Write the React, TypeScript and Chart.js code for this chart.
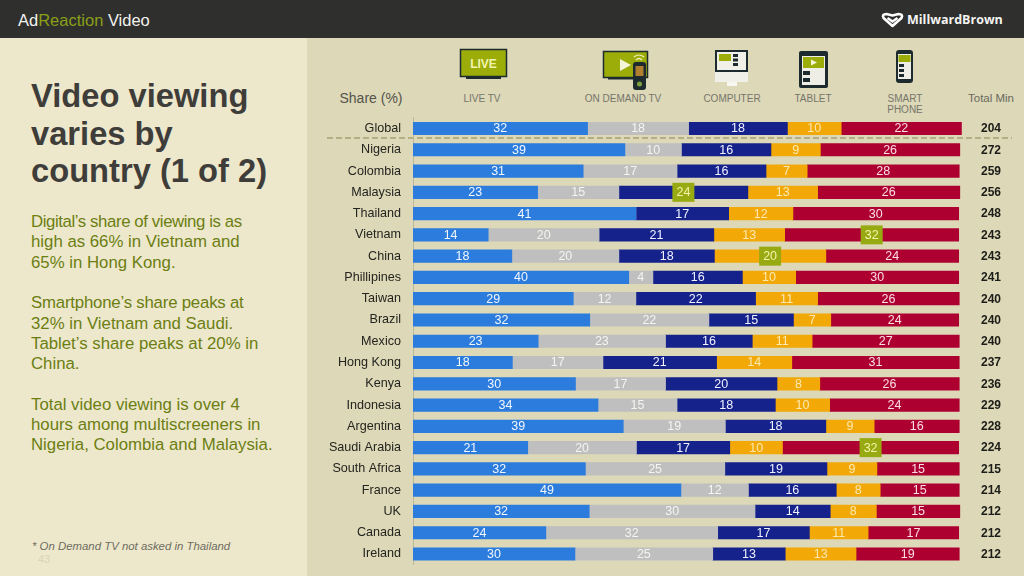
import React, { useEffect, useRef } from "react";
import { Chart, registerables } from "chart.js";

Chart.register(...registerables);

const countries = ["Global","Nigeria","Colombia","Malaysia","Thailand","Vietnam","China","Phillipines","Taiwan","Brazil","Mexico","Hong Kong","Kenya","Indonesia","Argentina","Saudi Arabia","South Africa","France","UK","Canada","Ireland"];

const liveTv = [31.8,38.6,31.0,22.7,40.6,13.7,18.0,39.3,29.2,32.2,22.8,18.1,29.6,33.7,38.3,20.9,31.4,48.8,32.1,24.2,29.5];
const onDemandTv = [18.4,10.3,17.1,14.8,0,20.2,19.5,4.4,11.4,21.7,23.2,16.5,16.4,14.4,18.6,19.8,25.4,12.3,30.2,31.3,25.1];
const computer = [18.0,16.3,16.2,23.5,16.9,20.9,17.4,16.3,21.8,15.4,15.8,20.7,20.3,17.9,18.3,17.0,18.6,16.0,13.7,16.7,13.2];
const tablet = [9.8,9.0,7.5,12.7,11.7,12.9,20.3,9.7,11.3,6.8,10.9,13.7,7.8,9.9,8.8,9.6,9.1,8.0,8.4,10.7,12.9];
const smartphone = [21.9,25.4,27.7,25.9,30.2,31.7,24.2,29.7,25.8,23.3,26.8,30.5,25.4,23.6,15.5,32.1,15.0,14.4,15.2,16.5,18.8];

const liveTvLabels = [32,39,31,23,41,14,18,40,29,32,23,18,30,34,39,21,32,49,32,24,30];
const onDemandTvLabels = [18,10,17,15,null,20,20,4,12,22,23,17,17,15,19,20,25,12,30,32,25];
const computerLabels = [18,16,16,24,17,21,18,16,22,15,16,21,20,18,18,17,19,16,14,17,13];
const tabletLabels = [10,9,7,13,12,13,20,10,11,7,11,14,8,10,9,10,9,8,8,11,13];
const smartphoneLabels = [22,26,28,26,30,32,24,30,26,24,27,31,26,24,16,32,15,15,15,17,19];

const totalMinutes = [204,272,259,256,248,243,243,241,240,240,240,237,236,229,228,224,215,214,212,212,212];

// [dataset index, row index] of the cells with a green marker
const highlights = [[2,3],[4,5],[3,6],[4,15]];

const seriesNames = ["LIVE TV","ON DEMAND TV","COMPUTER","TABLET","SMART PHONE"];
const seriesValues = [liveTv,onDemandTv,computer,tablet,smartphone];
const seriesLabels = [liveTvLabels,onDemandTvLabels,computerLabels,tabletLabels,smartphoneLabels];
const seriesColors = ["#2B7CDD","#BFBFBF","#15228C","#F2A908","#AE0030"];
const labelColors = ["#F2F7FF","#F4F4F0","#F0F2FF","#FBE9B0","#FBDDE6"];

const bodyLines = [
  "Digital\u2019s share of viewing is as","high as 66% in Vietnam and","65% in Hong Kong.","",
  "Smartphone\u2019s share peaks at","32% in Vietnam and Saudi.","Tablet\u2019s share peaks at 20% in","China.","",
  "Total video viewing is over 4","hours among multiscreeners in","Nigeria, Colombia and Malaysia."
];
const bodyTracking = [-0.4,0,0,0,-0.2,0,0,0,0,0,0,0];

const FONT = '"Liberation Sans", Arial, sans-serif';

const cellPlugin = {
  id: "cellText",
  afterDatasetsDraw(chart: any) {
    const ctx = chart.ctx;
    ctx.save();
    ctx.textAlign = "center";
    ctx.textBaseline = "middle";
    chart.data.datasets.forEach((_: any, d: number) => {
      chart.getDatasetMeta(d).data.forEach((bar: any, i: number) => {
        const label = seriesLabels[d][i];
        if (label === null) return;
        const cx = (bar.x + bar.base) / 2;
        const isHi = highlights.some(([hd, hi]) => hd === d && hi === i);
        if (isHi) {
          ctx.fillStyle = "#98AA12";
          ctx.fillRect(cx - 11, bar.y - 9.5, 22, 19);
        }
        ctx.font = `12.5px ${FONT}`;
        ctx.fillStyle = isHi ? "#F5F3A8" : labelColors[d];
        ctx.fillText(String(label), cx, bar.y + 0.5);
      });
    });
    const meta = chart.getDatasetMeta(0);
    ctx.font = `bold 12px ${FONT}`;
    ctx.fillStyle = "#1C1C18";
    totalMinutes.forEach((t, i) => {
      ctx.fillText(String(t), chart.scales.x.right + 29, meta.data[i].y + 0.5);
    });
    ctx.restore();
  },
};

function Icons() {
  const dark = "#1E2B2E";
  const olive = "#9CAC08";
  return (
    <svg width={1024} height={576} style={{ position: "absolute", left: 0, top: 0 }}>
      <line x1={327} y1={138} x2={1012} y2={138} stroke="#8E8452" strokeWidth={1} strokeDasharray="6 3" />
      {/* Live TV */}
      <rect x={466} y={76} width={35} height={3} fill={dark} />
      <rect x={460.5} y={49.5} width={46} height={27} fill={olive} stroke={dark} strokeWidth={1.5} />
      <text x={483.5} y={68} textAnchor="middle" fontFamily={FONT} fontWeight="bold" fontSize={12} fill="#F3F3B0">LIVE</text>
      {/* On demand TV */}
      <rect x={608} y={77} width={30} height={2.5} fill={dark} />
      <rect x={603.5} y={51.5} width={44} height={26} fill={olive} stroke={dark} strokeWidth={1.5} />
      <path d="M620 59 L631 65 L620 71 Z" fill="#F4F4D8" />
      <path d="M634 57 Q639 53 644 57 M636 60 Q639 57 642 60" fill="none" stroke="#F0F0C0" strokeWidth={1.2} />
      <rect x={633} y={62} width={13} height={28} rx={3} fill={dark} />
      <rect x={635.5} y={66} width={8} height={10} fill="#B08030" />
      <circle cx={639.5} cy={84} r={2.5} fill="#7FA040" />
      {/* Computer */}
      <rect x={715} y={71} width={33} height={11} fill="#F0EFE8" />
      <rect x={727} y={82} width={10} height={4} fill="#F7F7F2" />
      <rect x={716} y={51} width={31} height={20} fill="#F0F0E8" stroke={dark} strokeWidth={2} />
      <rect x={719} y={54} width={12} height={7} fill={olive} />
      <rect x={733} y={54} width={5} height={3} fill={dark} />
      <rect x={733} y={58.5} width={5} height={3} fill={dark} />
      <rect x={733} y={63} width={5} height={3} fill={dark} />
      {/* Tablet */}
      <rect x={799} y={51} width={29} height={37} rx={2} fill={dark} />
      <rect x={802} y={56} width={23} height={29} fill="#EEEEE6" />
      <rect x={803} y={57} width={21} height={11} fill={olive} />
      <path d="M811 59.5 L817 62.5 L811 65.5 Z" fill="#F4F4D8" />
      <rect x={803} y={71} width={7} height={4} fill={dark} />
      <rect x={803} y={78} width={7} height={4} fill={dark} />
      {/* Phone */}
      <rect x={896} y={50} width={17} height={33} rx={3} fill={dark} />
      <rect x={898} y={54} width={13} height={25} fill="#EEEEE6" />
      <rect x={898.5} y={55} width={12} height={7} fill={olive} />
      <rect x={899} y={64} width={5} height={3} fill={dark} />
      <rect x={899} y={69} width={5} height={3} fill={dark} />
      <rect x={899} y={74} width={5} height={3} fill={dark} />
      {/* MillwardBrown mark */}
      <path d="M892.5 26 L883.5 18 Q881.5 14 886.5 14 L892.5 15.5 L898.5 14 Q903.5 14 901.5 18 Z" fill="none" stroke="#FFFFFF" strokeWidth={2.6} strokeLinejoin="round" />
      <path d="M887.5 18 L892.5 21.5 L897.5 18" fill="none" stroke="#FFFFFF" strokeWidth={2.4} />
    </svg>
  );
}

function T(p: { x: number; y: number; size: number; color: string; text?: string; bold?: boolean; italic?: boolean; center?: boolean; family?: string; tracking?: number; children?: any; }) {
  return (
    <div style={{
      position: "absolute", left: p.center ? p.x - 100 : p.x, top: p.y - 15, height: 30, lineHeight: "30px",
      width: p.center ? 200 : undefined, textAlign: p.center ? "center" : "left", whiteSpace: "pre",
      fontSize: p.size, color: p.color, fontWeight: p.bold ? 700 : 400, fontStyle: p.italic ? "italic" : "normal",
      fontFamily: p.family || FONT, letterSpacing: p.tracking || 0,
    }}>{p.children ?? p.text}</div>
  );
}

export default function App() {
  const ref = useRef<HTMLCanvasElement>(null);
  useEffect(() => {
    const chart = new Chart(ref.current!, {
      type: "bar",
      data: {
        labels: countries,
        datasets: seriesNames.map((name, i) => ({
          label: name,
          data: seriesValues[i],
          backgroundColor: seriesColors[i],
          barThickness: 12.5,
          borderWidth: 0,
        })),
      },
      options: {
        indexAxis: "y",
        responsive: false,
        animation: false,
        layout: { autoPadding: false, padding: { left: 313, right: 62, top: 117.86, bottom: 11.36 } },
        plugins: { legend: { display: false }, tooltip: { enabled: false } },
        scales: {
          x: { stacked: true, display: false, min: 0, max: 100 },
          y: {
            stacked: true,
            afterFit: (s: any) => { s.width = 100; },
            grid: { display: false, drawTicks: true, tickLength: 12, tickColor: "rgba(0,0,0,0)" },
            border: { display: true, color: "#BDB89C", width: 1 },
            ticks: {
              autoSkip: false,
              padding: 0,
              color: "#24241F",
              font: { family: FONT, size: 12.6 },
            },
          },
        },
      },
      plugins: [cellPlugin],
    } as any);
    return () => chart.destroy();
  }, []);

  return (
    <div style={{ position: "fixed", left: 0, top: 0, width: 1024, height: 576, overflow: "hidden", background: "#EDE8CB" }}>
      <div style={{ position: "absolute", left: 307, top: 38, width: 717, height: 538, background: "#DCD8B8" }} />
      <div style={{ position: "absolute", left: 0, top: 0, width: 1024, height: 38, background: "#2F2F2E" }} />
      <Icons />
      <T x={18} y={20} size={16.5} color="#F2F2EE"><span>Ad</span><span style={{ color: "#8AA018" }}>Reaction</span><span> Video</span></T>
      <T x={907} y={20} size={12.5} color="#F4F4F2" bold family='"Open Sans", sans-serif' text="MillwardBrown" />
      <T x={31} y={96} size={32.7} color="#3F3D3A" bold text="Video viewing" />
      <T x={31} y={133.5} size={32.7} color="#3F3D3A" bold text="varies by" />
      <T x={31} y={171} size={32.7} color="#3F3D3A" bold text="country (1 of 2)" />
      {bodyLines.map((line, i) => line ? <T key={i} x={31} y={222 + i * 20.3} size={16.8} color="#6C7E12" tracking={bodyTracking[i]} text={line} /> : null)}
      <T x={32} y={546} size={11.4} color="#6E6C60" italic text="* On Demand TV not asked in Thailand" />
      <T x={38} y={559} size={11} color="#D8D4B8" text="43" />
      <T x={371} y={98} size={14} color="#55534A" center text="Share (%)" />
      <T x={482} y={98.5} size={10} color="#77756A" center text="LIVE TV" />
      <T x={623} y={98.5} size={10} color="#77756A" center text="ON DEMAND TV" />
      <T x={732} y={98.5} size={10} color="#77756A" center text="COMPUTER" />
      <T x={813} y={98.5} size={10} color="#77756A" center text="TABLET" />
      <T x={905} y={98.5} size={10} color="#77756A" center text="SMART" />
      <T x={905} y={110} size={10} color="#77756A" center text="PHONE" />
      <T x={991} y={97.5} size={11.5} color="#6B6A5C" center text="Total Min" />
      <canvas ref={ref} width={1024} height={576} style={{ position: "absolute", left: 0, top: 0, display: "block" }} />
    </div>
  );
}
